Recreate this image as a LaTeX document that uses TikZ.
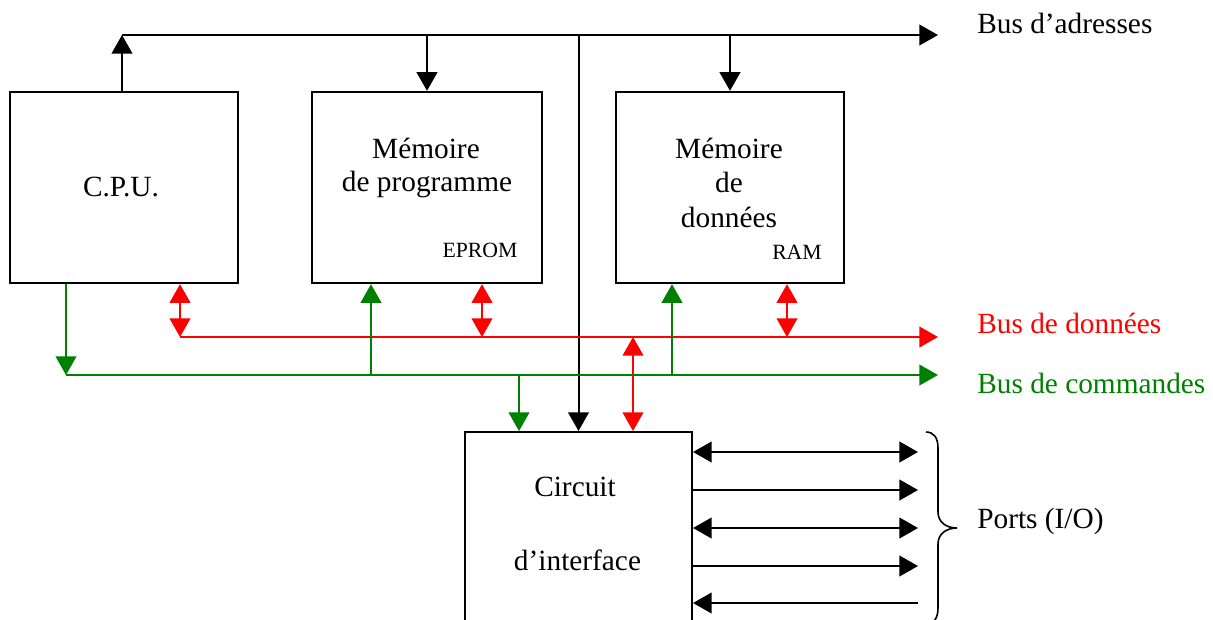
\documentclass[tikz,border=0pt]{standalone}
\usepackage{fontspec}
\setmainfont{Liberation Serif}
\usetikzlibrary{arrows.meta}
\definecolor{busred}{RGB}{255,0,0}
\definecolor{busgreen}{RGB}{0,128,0}
\begin{document}
\begin{tikzpicture}[x=0.75pt,y=-0.75pt,
  tip/.tip={Triangle[length=14pt,width=15.5pt]},
  wire/.style={line width=1.5pt,black},
  redwire/.style={line width=1.4pt,busred},
  greenwire/.style={line width=1.4pt,busgreen},
  unit/.style={draw,line width=1.5pt,inner sep=0pt,fill=none},
  big/.style={inner sep=0pt,font=\fontsize{22}{26}\selectfont},
  small/.style={inner sep=0pt,font=\fontsize{16.3}{19}\selectfont},
  lbl/.style={big,anchor=base west},
  txt/.style={big,anchor=base}]
\useasboundingbox (0,0) rectangle (1213,619);

% functional blocks
\node[unit,minimum width=171pt,minimum height=143.5pt] (cpu)   at (124,187.5) {};
\node[unit,minimum width=172.5pt,minimum height=143.5pt] (mprog) at (427,187.5) {};
\node[unit,minimum width=171pt,minimum height=143.5pt] (mdata) at (730,187.5) {};
\node[unit,minimum width=170.25pt,minimum height=156pt] (circ)  at (578.5,536) {};

% block captions
\node[txt] (tcpu) at (121,196.5) {C.P.U.};
\node[txt] (tp1) at (426,158) {Mémoire};
\node[txt] (tp2) at (427,191.5) {de programme};
\node[small,anchor=base] (teprom) at (480,257.5) {EPROM};
\node[txt] (td1) at (729,158) {Mémoire};
\node[txt] (td2) at (729,192.5) {de};
\node[txt] (td3) at (729,227) {données};
\node[small,anchor=base] (tram) at (797,259) {RAM};
\node[txt] (tc1) at (575,496.5) {Circuit};
\node[txt] (tc2) at (577.5,570) {d’interface};

% bus end points
\coordinate (a0) at (122,35);   \coordinate (a1) at (938,35);
\coordinate (d0) at (180,337);  \coordinate (d1) at (938,337);
\coordinate (c0) at (66,375);   \coordinate (c1) at (938,375);

% bus taps
\coordinate (rp) at (482,337);  \coordinate (rd) at (787,337);
\coordinate (rc) at (633,337);
\coordinate (gp) at (371,375);  \coordinate (gd) at (672,375);
\coordinate (gc) at (519,375);

% address bus
\draw[wire,-{tip}] (a0) -- (a1);
\draw[wire,-{tip}] (cpu.north -| a0) -- (a0);
\draw[wire,-{tip}] (mprog.north |- a0) -- (mprog.north);
\draw[wire,-{tip}] (mdata.north |- a0) -- (mdata.north);
\draw[wire,-{tip}] (circ.north |- a0) -- (circ.north);

% data bus
\draw[redwire,-{tip}] (d0) -- (d1);
\draw[redwire,{tip}-{tip}] (cpu.south -| d0) -- (d0);
\draw[redwire,{tip}-{tip}] (mprog.south -| rp) -- (rp);
\draw[redwire,{tip}-{tip}] (mdata.south -| rd) -- (rd);
\draw[redwire,{tip}-{tip}] (rc) -- (circ.north -| rc);

% command bus
\draw[greenwire,-{tip}] (c0) -- (c1);
\draw[greenwire,-{tip}] (cpu.south -| c0) -- (c0);
\draw[greenwire,-{tip}] (gp) -- (mprog.south -| gp);
\draw[greenwire,-{tip}] (gd) -- (mdata.south -| gd);
\draw[greenwire,-{tip}] (gc) -- (circ.north -| gc);

% bus names
\node[lbl] (la) at (977,33) {Bus d’adresses};
\node[lbl,text=busred] (ld) at (977,333) {Bus de données};
\node[lbl,text=busgreen] (lc) at (977,393) {Bus de commandes};

% I/O ports
\coordinate (p1) at (918,452);
\coordinate (p2) at (918,490);
\coordinate (p3) at (918,528);
\coordinate (p4) at (918,566);
\coordinate (p5) at (918,603);
\draw[wire,{tip}-{tip}] (p1 -| circ.east) -- (p1);
\draw[wire,-{tip}] (p2 -| circ.east) -- (p2);
\draw[wire,{tip}-{tip}] (p3 -| circ.east) -- (p3);
\draw[wire,-{tip}] (p4 -| circ.east) -- (p4);
\draw[wire,{tip}-] (p5 -| circ.east) -- (p5);

% brace grouping the ports
\draw[line width=1.2pt] (926,432) .. controls (934,432) and (938,438) .. (938,448)
  -- (938,512) .. controls (938,522) and (946,528) .. (957,528)
  .. controls (946,528) and (938,534) .. (938,544)
  -- (938,608) .. controls (938,618) and (934,624) .. (926,624);
\node[lbl] (lp) at (977,528) {Ports (I/O)};
\end{tikzpicture}
\end{document}
